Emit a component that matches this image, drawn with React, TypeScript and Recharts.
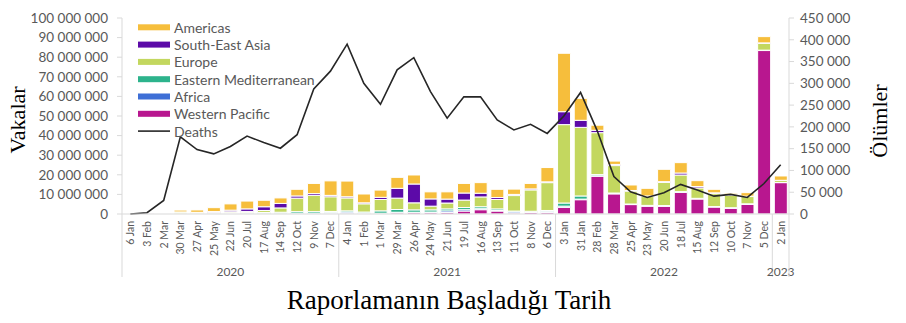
import React from 'react';
import { ComposedChart, Bar, Line, XAxis, YAxis } from 'recharts';

// 4 haftalık raporlama dönemleri
const dates = [
  '6 Jan', '3 Feb', '2 Mar', '30 Mar', '27 Apr', '25 May', '22 Jun', '20 Jul', '17 Aug', '14 Sep', '12 Oct', '9 Nov', '7 Dec',
  '4 Jan', '1 Feb', '1 Mar', '29 Mar', '26 Apr', '24 May', '21 Jun', '19 Jul', '16 Aug', '13 Sep', '11 Oct', '8 Nov', '6 Dec',
  '3 Jan', '31 Jan', '28 Feb', '28 Mar', '25 Apr', '23 May', '20 Jun', '18 Jul', '15 Aug', '12 Sep', '10 Oct', '7 Nov', '5 Dec',
  '2 Jan',
];
const years = ['2020', '2021', '2022', '2023'];
const yearSizes = [13, 13, 13, 1];

// vakalar, milyon
const americas = [0, 0, 0.01, 0.95, 1.2, 2.0, 3.2, 4.0, 3.3, 2.8, 3.4, 5.2, 7.4, 8.0, 4.5, 3.7, 5.6, 4.6, 3.6, 3.7, 4.9, 5.4, 4.2, 2.7, 2.8, 7.3, 29.8, 11.2, 2.6, 1.7, 2.8, 3.9, 6.3, 5.3, 3.0, 1.8, 0.8, 1.8, 3.2, 2.2];
const seAsia = [0, 0, 0, 0.03, 0.1, 0.4, 0.8, 1.3, 1.9, 2.3, 1.1, 0.9, 0.7, 0.6, 0.5, 1.1, 5.0, 9.6, 3.7, 2.0, 3.6, 1.9, 1.0, 0.6, 0.5, 0.4, 6.6, 3.6, 1.2, 0.6, 0.3, 0.3, 0.4, 1.0, 0.7, 0.4, 0.2, 0.2, 0.2, 0.1];
const europe = [0, 0, 0.1, 0.85, 0.55, 0.4, 0.5, 0.6, 1.0, 2.2, 6.9, 8.3, 7.5, 6.6, 4.2, 5.8, 5.8, 3.6, 1.9, 3.0, 3.8, 5.0, 4.8, 7.9, 10.9, 14.2, 40.0, 35.0, 21.4, 14.0, 6.6, 4.5, 11.8, 8.5, 5.3, 6.6, 6.4, 3.7, 3.5, 1.0];
const eastMed = [0, 0, 0.04, 0.1, 0.15, 0.3, 0.4, 0.3, 0.4, 0.5, 0.8, 0.8, 0.6, 0.6, 0.5, 1.2, 1.4, 1.2, 1.1, 1.0, 1.1, 1.0, 0.8, 0.4, 0.4, 0.4, 1.6, 1.6, 0.6, 0.3, 0.2, 0.2, 0.2, 0.3, 0.2, 0.1, 0.1, 0.1, 0.1, 0.1];
const africa = [0, 0, 0, 0.02, 0.03, 0.1, 0.2, 0.3, 0.2, 0.2, 0.2, 0.2, 0.4, 0.6, 0.3, 0.2, 0.3, 0.2, 0.3, 0.8, 0.7, 0.5, 0.3, 0.6, 0.2, 0.6, 0.6, 0.3, 0.2, 0.1, 0.1, 0.2, 0.1, 0.1, 0.1, 0.1, 0.1, 0.1, 0.1, 0.0];
const westPac = [0.01, 0.07, 0.02, 0.05, 0.03, 0.03, 0.05, 0.1, 0.2, 0.2, 0.2, 0.2, 0.3, 0.4, 0.2, 0.2, 0.6, 0.7, 0.7, 0.8, 1.5, 2.2, 1.5, 0.5, 0.8, 0.8, 3.4, 7.3, 19.3, 10.3, 4.8, 4.0, 4.0, 11.0, 7.7, 3.6, 3.0, 5.0, 83.4, 16.0];

// ölümler, bin
const deaths = [0, 3, 31, 177, 148, 138, 155, 179, 164, 151, 182, 287, 328, 390, 300, 252, 331, 359, 281, 220, 269, 269, 216, 193, 206, 185, 225, 279, 191, 86, 51, 38, 49, 68, 55, 41, 45, 38, 70, 113];

const caseTicks = [0, 10, 20, 30, 40, 50, 60, 70, 80, 90, 100].map((v) => v * 1e6);
const deathTicks = [0, 50, 100, 150, 200, 250, 300, 350, 400, 450].map((v) => v * 1e3);

const series = [
  { key: 'westPac', name: 'Western Pacific', color: '#B8178F' },
  { key: 'africa', name: 'Africa', color: '#3E6FD6' },
  { key: 'eastMed', name: 'Eastern Mediterranean', color: '#2DB38C' },
  { key: 'europe', name: 'Europe', color: '#C3D75F' },
  { key: 'seAsia', name: 'South-East Asia', color: '#5C0AA8' },
  { key: 'americas', name: 'Americas', color: '#F6BE3C' },
];

const data = dates.map((date, i) => ({
  date,
  americas: americas[i] * 1e6,
  seAsia: seAsia[i] * 1e6,
  europe: europe[i] * 1e6,
  eastMed: eastMed[i] * 1e6,
  africa: africa[i] * 1e6,
  westPac: westPac[i] * 1e6,
  deaths: deaths[i] * 1e3,
}));

const W = 906;
const H = 323;
const LEFT = 122;
const RIGHT = 117;
const TOP = 18;
const BOTTOM = 109;
const PLOT_BOTTOM = H - BOTTOM;
const BAND = (W - LEFT - RIGHT) / dates.length;
const TEXT = '#595959';
const AXIS = '#d9d9d9';
const FONT = 'Lato, "Open Sans", sans-serif';

const groupStarts = yearSizes.map((_, g) => yearSizes.slice(0, g).reduce((a, b) => a + b, 0));

const fmt = (n: number) => String(Math.round(n)).replace(/\B(?=(\d{3})+(?!\d))/g, ' ');

function DateTick(props: any) {
  const { x, index } = props;
  const top = PLOT_BOTTOM + 7;
  const g = groupStarts.indexOf(index);
  const last = index === dates.length - 1;
  return (
    <g>
      <text
        x={x}
        y={top}
        transform={`rotate(-90 ${x} ${top})`}
        textAnchor="end"
        dominantBaseline="central"
        fill={TEXT}
        fontSize={10.5}
        fontFamily={FONT}
      >
        {dates[index]}
      </text>
      {g >= 0 && (
        <>
          <line x1={x - BAND / 2} x2={x - BAND / 2} y1={PLOT_BOTTOM} y2={PLOT_BOTTOM + 63} stroke={AXIS} />
          <text
            x={x + ((yearSizes[g] - 1) / 2) * BAND}
            y={PLOT_BOTTOM + 57}
            textAnchor="middle"
            dominantBaseline="central"
            fill={TEXT}
            fontSize={12}
            fontFamily={FONT}
          >
            {years[g]}
          </text>
        </>
      )}
      {last && <line x1={x + BAND / 2} x2={x + BAND / 2} y1={PLOT_BOTTOM} y2={PLOT_BOTTOM + 63} stroke={AXIS} />}
    </g>
  );
}

const legendRows = [...series].reverse();

export default function App() {
  return (
    <div style={{ position: 'absolute', left: 0, top: 0, width: W, height: H, background: '#fff' }}>
      <ComposedChart
        width={W}
        height={H}
        data={data}
        margin={{ top: TOP, right: 0, bottom: 0, left: 0 }}
        barCategoryGap="12%"
      >
        <XAxis
          dataKey="date"
          interval={0}
          tickLine={false}
          axisLine={{ stroke: AXIS }}
          height={BOTTOM}
          tick={(p: any) => <DateTick {...p} />}
        />
        <YAxis
          yAxisId="cases"
          width={LEFT}
          domain={[0, 100e6]}
          ticks={caseTicks}
          interval={0}
          tickFormatter={fmt}
          axisLine={{ stroke: AXIS }}
          tickLine={{ stroke: AXIS }}
          tickSize={5}
          tickMargin={9}
          tick={{ fill: TEXT, fontSize: 13.5, fontFamily: FONT }}
        />
        <YAxis
          yAxisId="deaths"
          orientation="right"
          width={RIGHT}
          domain={[0, 450e3]}
          ticks={deathTicks}
          interval={0}
          tickFormatter={fmt}
          axisLine={{ stroke: AXIS }}
          tickLine={{ stroke: AXIS }}
          tickSize={5}
          tickMargin={6}
          tick={{ fill: TEXT, fontSize: 13.5, fontFamily: FONT }}
        />
        {series.map((s) => (
          <Bar
            key={s.key}
            yAxisId="cases"
            dataKey={s.key}
            name={s.name}
            stackId="cases"
            fill={s.color}
            stroke="#ffffff"
            strokeWidth={1}
            isAnimationActive={false}
          />
        ))}
        <Line
          yAxisId="deaths"
          dataKey="deaths"
          name="Deaths"
          type="linear"
          stroke="#262626"
          strokeWidth={1.6}
          dot={false}
          isAnimationActive={false}
        />
      </ComposedChart>
      <svg width={W} height={H} style={{ position: 'absolute', left: 0, top: 0, pointerEvents: 'none' }}>
        {legendRows.map((s, i) => (
          <g key={s.key}>
            <rect x={138} y={27.3 + i * 17.3 - 3} width={32} height={6} fill={s.color} />
            <text x={174} y={27.3 + i * 17.3} dominantBaseline="central" fill={TEXT} fontSize={14} fontFamily={FONT}>
              {s.name}
            </text>
          </g>
        ))}
        <line x1={138} x2={170} y1={27.3 + 6 * 17.3} y2={27.3 + 6 * 17.3} stroke="#262626" strokeWidth={1.6} />
        <text x={174} y={27.3 + 6 * 17.3} dominantBaseline="central" fill={TEXT} fontSize={14} fontFamily={FONT}>
          Deaths
        </text>
        <text
          x={17}
          y={120}
          transform="rotate(-90 17 120)"
          textAnchor="middle"
          dominantBaseline="central"
          fontSize={22}
          fontFamily='"Liberation Serif", serif'
          fill="#000"
        >
          Vakalar
        </text>
        <text
          x={879}
          y={121}
          transform="rotate(-90 879 121)"
          textAnchor="middle"
          dominantBaseline="central"
          fontSize={22}
          fontFamily='"Liberation Serif", serif'
          fill="#000"
        >
          Ölümler
        </text>
        <text
          x={449}
          y={300}
          textAnchor="middle"
          dominantBaseline="central"
          fontSize={27}
          fontFamily='"Liberation Serif", serif'
          fill="#000"
        >
          Raporlamanın Başladığı Tarih
        </text>
      </svg>
    </div>
  );
}
